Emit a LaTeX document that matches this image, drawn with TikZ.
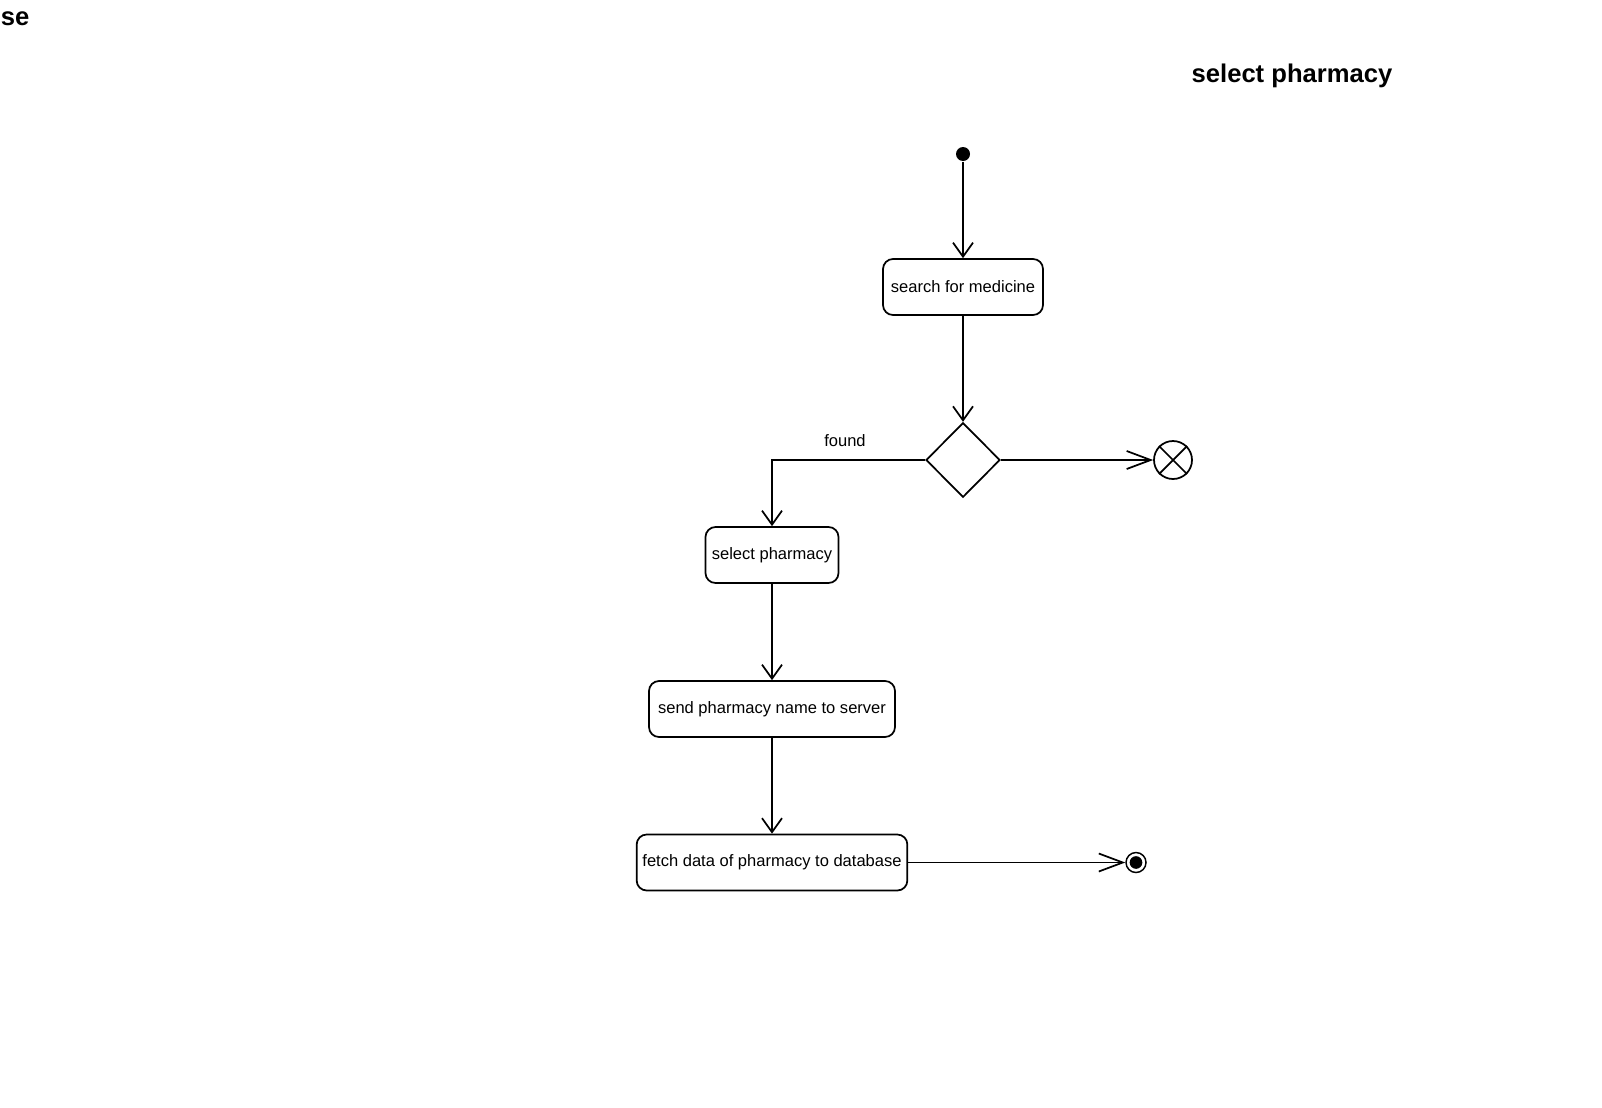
\documentclass[tikz,border=0pt]{standalone}
\usepackage{fontspec}
\setmainfont{Liberation Sans}
\usetikzlibrary{arrows.meta,shapes.geometric}
\begin{document}
\begin{tikzpicture}[x=0.75pt,y=-0.75pt,
  line width=1.3pt,
  actbox/.style={draw,rounded corners=7.5pt,minimum height=42pt,inner sep=0pt,
    font=\fontsize{12.4pt}{14pt}\selectfont},
  flowv/.style={-{Straight Barb[length=10.5pt,width=15pt,line width=1.3pt]}},
  flowh/.style={-{Straight Barb[length=18pt,width=13.5pt,line width=1.3pt]}},
  txt/.style={inner sep=0pt,font=\fontsize{12.4pt}{14pt}\selectfont},
  heading/.style={inner sep=0pt,font=\fontsize{19.2pt}{22pt}\selectfont\bfseries}]
\useasboundingbox (0,0) rectangle (1602,1107);

% headings
\node[heading,anchor=base west] (frame) at (0,25) {se};
\node[heading,anchor=base] (title) at (1292,82) {select pharmacy};

% initial and final nodes
\node[circle,fill=black,inner sep=0pt,minimum size=10.5pt] (init) at (963,154) {};
\node[circle,draw,inner sep=0pt,minimum size=28.5pt] (flowend) at (1173,460) {};
\draw (flowend.north west) -- (flowend.south east)
      (flowend.north east) -- (flowend.south west);
\node[circle,draw,inner sep=0pt,minimum size=15pt,line width=1.1pt] (final) at (1136,862.5) {};
\node[circle,fill=black,inner sep=0pt,minimum size=9.5pt] (finaldot) at (1136,862.5) {};

% actions
\node[actbox,minimum width=120pt] (search) at (963,287) {search for medicine};
\node[diamond,draw,inner sep=0pt,minimum width=55.5pt,minimum height=56pt] (dec) at (963,460) {};
\node[actbox,minimum width=99.75pt] (select) at (772,555) {select pharmacy};
\node[actbox,minimum width=184.5pt] (send) at (772,709) {send pharmacy name to server};
\node[actbox,minimum width=203pt] (fetch) at (772,862.5) {fetch data of pharmacy to database};

% control flows
\draw[flowv] (init) -- (search.north);
\draw[flowv] (search) -- (dec.north);
\draw[flowv] (dec.west) -| (select.north);
\node[txt,anchor=base] (found) at (845,446) {found};
\draw[flowh] (dec.east) -- (flowend.west);
\draw[flowv] (select) -- (send.north);
\draw[flowv] (send) -- (fetch.north);
\draw[flowh] (fetch.east) -- (final.west);
\end{tikzpicture}
\end{document}
